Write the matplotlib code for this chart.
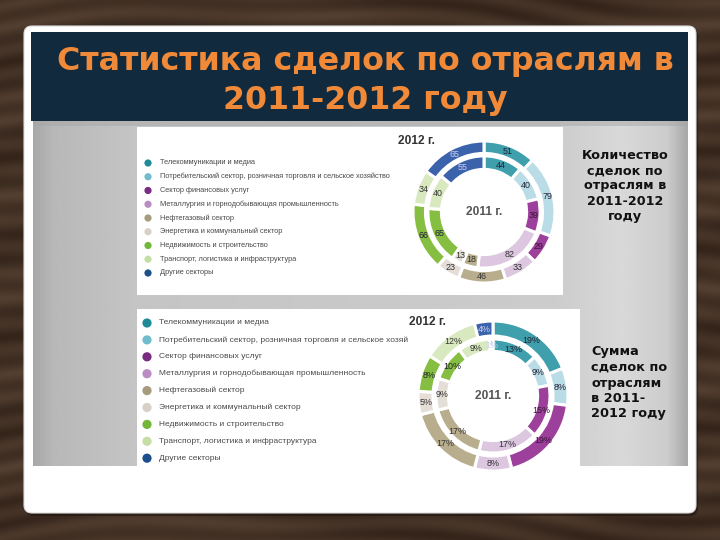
import numpy as np
import matplotlib
matplotlib.use("Agg")
import matplotlib.pyplot as plt
from matplotlib.patches import FancyBboxPatch, Rectangle, Circle
from matplotlib.colors import LinearSegmentedColormap

# ---------------- data ----------------
sectors = [
    "Телекоммуникации и медиа",
    "Потребительский сектор, розничная торговля и сельское хозяйство",
    "Сектор финансовых услуг",
    "Металлургия и горнодобывающая промышленность",
    "Нефтегазовый сектор",
    "Энергетика и коммунальный сектор",
    "Недвижимость и строительство",
    "Транспорт, логистика и инфраструктура",
    "Другие секторы",
]
sectors_sum_legend = [
    "Телекоммуникации и медиа",
    "Потребительский сектор, розничная торговля и сельское хозяй",
    "Сектор финансовых услуг",
    "Металлургия и горнодобывающая промышленность",
    "Нефтегазовый сектор",
    "Энергетика и коммунальный сектор",
    "Недвижимость и строительство",
    "Транспорт, логистика и инфраструктура",
    "Другие секторы",
]
count_2012 = [51, 79, 29, 33, 46, 23, 66, 34, 65]
count_2011 = [44, 40, 39, 82, 18, 13, 65, 40, 55]
share_2012 = [19, 8, 19, 8, 17, 5, 8, 12, 4]
share_2011 = [13, 9, 15, 17, 17, 9, 10, 9, 1]

title_text = "Статистика сделок по отраслям в\n2011-2012 году"
side_top = "Количество\nсделок по\nотраслям в\n2011-2012\nгоду"
side_bottom = "Сумма\nсделок по\nотраслям\nв 2011-\n2012 году"

# ---------------- style ----------------
ring_colors = ["#3f9fad", "#b9dce7", "#9c409b", "#dcc6e0", "#b8ad8d",
               "#e4ded7", "#86be41", "#d8e8bf", "#3a63ac"]
legend_colors = ["#1f8b99", "#70bccc", "#7a2c83", "#b98cc3", "#a79b7e",
                 "#d7d0c7", "#72b63a", "#c5dea5", "#1d4f8a"]
label_colors = ["#223", "#223", "#3a1438", "#333", "#333",
                "#333", "#223", "#333", "#d0d0f0"]

W, H = 720, 540
fig = plt.figure(figsize=(7.2, 5.4), dpi=100)

bg = fig.add_axes([0, 0, 1, 1])
bg.set_xlim(0, W)
bg.set_ylim(H, 0)
bg.axis("off")

# wood texture background
yy, xx = np.mgrid[0:H, 0:W]
wood = (0.5 + 0.15 * np.sin(yy * 0.26 + 5.0 * np.sin(xx * 0.006) + 1.5 * np.sin(xx * 0.017 + yy * 0.012))
        + 0.12 * np.sin(yy * 0.07 + 2.0 * np.sin(xx * 0.009)))
wood_cmap = LinearSegmentedColormap.from_list("wood", ["#2c1e15", "#3d2c21", "#4c392c", "#5e4a3a"])
bg.imshow(wood, extent=(0, W, H, 0), cmap=wood_cmap, vmin=0.1, vmax=0.95,
          aspect="auto", zorder=0, interpolation="bilinear")

# white card with faint shadow
bg.add_patch(FancyBboxPatch((26, 29), 672, 487, boxstyle="round,pad=0,rounding_size=8",
                            fc="#1a110c", ec="none", alpha=0.5, zorder=0.9))
bg.add_patch(FancyBboxPatch((24, 26), 672, 487, boxstyle="round,pad=0,rounding_size=8",
                            fc="white", ec="#dddddd", lw=0.8, zorder=1))
# navy title bar
bg.add_patch(Rectangle((31, 32), 657, 89, fc="#122a3e", ec="none", zorder=2))

# gray gradient panel
grad_x = np.linspace(0, 1, 400)
gstops = np.interp(grad_x, [0, 0.03, 0.15, 0.8, 0.9, 0.97, 1.0],
                   [0.66, 0.72, 0.77, 0.80, 0.85, 0.80, 0.66])
panel = np.tile(gstops, (50, 1))
gray_cmap = LinearSegmentedColormap.from_list("g", ["#000000", "#ffffff"])
bg.imshow(panel, extent=(33, 688, 466, 121), cmap=gray_cmap, vmin=0, vmax=1,
          aspect="auto", zorder=2, interpolation="bilinear")
bg.add_patch(Rectangle((33, 121), 655, 5, fc="#a6a6a6", ec="none", alpha=0.5, zorder=2.5))

# chart boxes
bg.add_patch(Rectangle((137, 127), 426, 168, fc="white", ec="none", zorder=3))
bg.add_patch(Rectangle((137, 309), 443, 158, fc="white", ec="none", zorder=3))

# title
bg.text(365, 81, title_text, ha="center", va="center", color="#f08a38",
        fontsize=22.8, fontweight="bold", family="DejaVu Sans", linespacing=1.3, zorder=5)

# side captions
bg.text(625, 186, side_top, ha="center", va="center", color="#111111",
        fontsize=9.2, fontweight="bold", family="DejaVu Sans", linespacing=1.22, zorder=5)
bg.text(591, 383, side_bottom, ha="left", va="center", color="#111111",
        fontsize=9.3, fontweight="bold", family="DejaVu Sans", linespacing=1.25, zorder=5)

# legends
def draw_legend(x0, y0, dy, r, labels, fs):
    for i, lab in enumerate(labels):
        y = y0 + i * dy
        bg.add_patch(Circle((x0, y), r, fc=legend_colors[i], ec="none", zorder=4))
        bg.text(x0 + 12, y, lab, ha="left", va="center", color="#4a4a4a",
                fontsize=fs, family="Liberation Sans", zorder=5)

draw_legend(148, 163, 13.75, 3.6, sectors, 5.3)
draw_legend(147, 323, 16.9, 4.6, sectors_sum_legend, 6.0)


def donut(cx, cy, R, outer_vals, inner_vals, outer_w, inner_r, inner_w, fmt, fs,
          title_xy, center_fs):
    S = 2.3 * R
    ax = fig.add_axes([(cx - S / 2) / W, 1 - (cy + S / 2) / H, S / W, S / H])
    ax.set_zorder(6)
    ax.patch.set_alpha(0)
    wp = dict(edgecolor="white", linewidth=2.2)
    ax.pie(outer_vals, radius=1.0, colors=ring_colors, startangle=90, counterclock=False,
           wedgeprops=dict(width=outer_w, **wp))
    ax.pie(inner_vals, radius=inner_r, colors=ring_colors, startangle=90, counterclock=False,
           wedgeprops=dict(width=inner_w, **wp))
    lim = S / 2 / R
    ax.set_xlim(-lim, lim)
    ax.set_ylim(-lim, lim)
    ax.set_aspect("equal")
    for vals, rad, w in ((outer_vals, 1.0, outer_w), (inner_vals, inner_r, inner_w)):
        tot = float(sum(vals))
        cum = np.cumsum([0] + list(vals))
        rm = rad - w / 2
        for i, v in enumerate(vals):
            ang = np.deg2rad(90 - (cum[i] + v / 2) / tot * 360)
            ax.text(rm * np.cos(ang), rm * np.sin(ang), fmt.format(v), ha="center",
                    va="center", fontsize=fs, color=label_colors[i], family="Liberation Sans")
    ax.text(0, 0.0, "2011 г.", ha="center", va="center", fontsize=center_fs,
            color="#555555", fontweight="bold", family="Liberation Sans")
    bg.text(title_xy[0], title_xy[1], "2012 г.", ha="left", va="center", fontsize=8.6,
            color="#333333", fontweight="bold", family="Liberation Sans", zorder=7)
    return ax

donut(484, 212, 71, count_2012, count_2011, 0.175, 0.79, 0.19, "{}", 6.4,
      (398, 141), 8.6)
donut(493, 396, 75, share_2012, share_2011, 0.2, 0.76, 0.165, "{}%", 6.4,
      (409, 322), 8.6)

fig.savefig("out.png", dpi=100)
